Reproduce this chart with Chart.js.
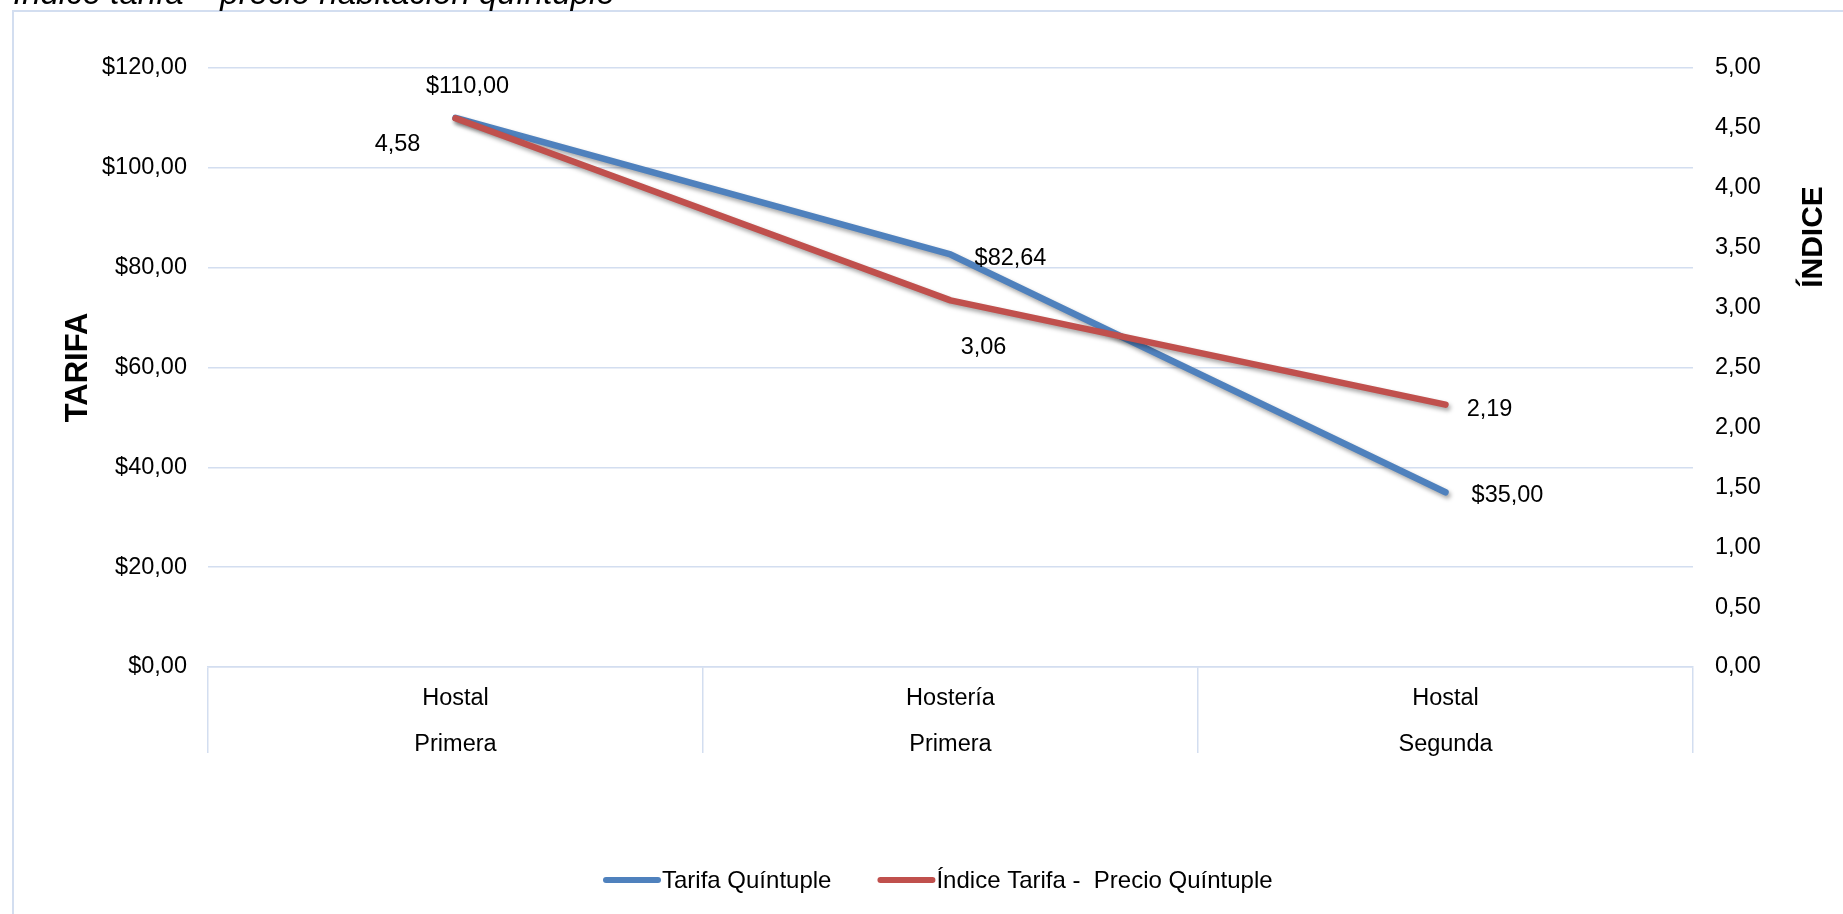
<!DOCTYPE html>
<html lang="es">
<head>
<meta charset="utf-8">
<title>Índice tarifa – precio habitación quíntuple</title>
<script src="https://cdn.jsdelivr.net/npm/chart.js@4.4.1/dist/chart.umd.min.js"></script>
<style>
  html, body { margin: 0; padding: 0; background: #ffffff; overflow: hidden; }
  #wrap { position: relative; width: 1843px; height: 914px; }
  canvas { display: block; }
</style>
</head>
<body>
<div id="wrap"><canvas id="chart"></canvas></div>
<script>
// ---- Data ----
const chartTitle = 'Índice tarifa – precio habitación quíntuple';
const categories = ['Hostal', 'Hostería', 'Hostal'];
const categoryGroups = ['Primera', 'Primera', 'Segunda'];
const seriesNames = ['Tarifa Quíntuple', 'Índice Tarifa -  Precio Quíntuple'];
const tarifa = [110.00, 82.64, 35.00];
const indice = [4.58, 3.06, 2.19];
const tarifaTicks = [0, 20, 40, 60, 80, 100, 120];
const indiceTicks = [0, 0.5, 1, 1.5, 2, 2.5, 3, 3.5, 4, 4.5, 5];
const axisTitles = ['TARIFA', 'ÍNDICE'];

// ---- Style ----
const FONT = '"Liberation Sans", Arial, Helvetica, sans-serif';
const BLUE = '#4f81bd';
const RED = '#c0504d';
const GRID = '#d3def0';
Chart.defaults.font.family = FONT;
Chart.defaults.color = '#000000';

// label offsets (dx, dy) from each point, per series
const labelOffsets = [
  [[12, -31], [60, 4.5], [62, 3.5]],
  [[-58, 26], [33, 47], [44, 5]]
];

const comma = (v) => v.toFixed(2).replace('.', ',');
const money = (v) => '$' + comma(v);
const formatters = [money, comma];

// Frame, title, axis titles, value labels and legend drawn on the canvas
const decorations = {
  id: 'decorations',
  beforeDraw(chart) {
    const ctx = chart.ctx;
    ctx.save();
    ctx.strokeStyle = GRID;
    ctx.lineWidth = 2;
    ctx.strokeRect(13, 11, 1900, 1000);
    ctx.restore();
  },
  beforeDatasetsDraw(chart) {
    const ctx = chart.ctx;
    ctx.save();
    ctx.shadowColor = 'rgba(0,0,0,0.35)';
    ctx.shadowBlur = 4;
    ctx.shadowOffsetX = 2;
    ctx.shadowOffsetY = 3;
  },
  afterDatasetsDraw(chart) {
    const ctx = chart.ctx;
    ctx.restore();

    // value labels
    ctx.save();
    ctx.font = '23.5px ' + FONT;
    ctx.fillStyle = '#000000';
    ctx.textAlign = 'center';
    ctx.textBaseline = 'middle';
    chart.data.datasets.forEach((ds, i) => {
      const meta = chart.getDatasetMeta(i);
      meta.data.forEach((pt, j) => {
        const [dx, dy] = labelOffsets[i][j];
        ctx.fillText(formatters[i](ds.data[j]), pt.x + dx, pt.y + dy);
      });
    });
    ctx.restore();
  },
  afterDraw(chart) {
    const ctx = chart.ctx;
    const area = chart.chartArea;

    // title (partly above the top edge)
    ctx.save();
    ctx.font = 'italic 33px ' + FONT;
    ctx.fillStyle = '#000000';
    ctx.textAlign = 'left';
    ctx.textBaseline = 'alphabetic';
    ctx.fillText(chartTitle, 13, 4);
    ctx.restore();

    // axis titles
    ctx.save();
    ctx.font = 'bold 31px ' + FONT;
    ctx.fillStyle = '#000000';
    ctx.textAlign = 'center';
    ctx.textBaseline = 'middle';
    ctx.translate(78, (area.top + area.bottom) / 2);
    ctx.rotate(-Math.PI / 2);
    ctx.fillText(axisTitles[0], 0, 0);
    ctx.restore();

    ctx.save();
    ctx.font = 'bold 30px ' + FONT;
    ctx.fillStyle = '#000000';
    ctx.textAlign = 'center';
    ctx.textBaseline = 'middle';
    ctx.translate(1814, 237);
    ctx.rotate(-Math.PI / 2);
    ctx.fillText(axisTitles[1], 0, 0);
    ctx.restore();

    // legend
    ctx.save();
    ctx.font = '24px ' + FONT;
    ctx.textAlign = 'left';
    ctx.textBaseline = 'middle';
    ctx.lineCap = 'round';
    ctx.lineWidth = 6;
    const ly = 880;
    let lx = 606;
    chart.data.datasets.forEach((ds, i) => {
      ctx.strokeStyle = ds.borderColor;
      ctx.beginPath();
      ctx.moveTo(lx, ly);
      ctx.lineTo(lx + 52, ly);
      ctx.stroke();
      ctx.fillStyle = '#000000';
      ctx.fillText(ds.label, lx + 56, ly + 1);
      lx += 56 + ctx.measureText(ds.label).width + 46 + 3;
    });
    ctx.restore();
  }
};

new Chart(document.getElementById('chart'), {
  type: 'line',
  data: {
    labels: categories.map((c, i) => [c, categoryGroups[i]]),
    datasets: [
      {
        label: seriesNames[0],
        data: tarifa,
        yAxisID: 'y',
        borderColor: BLUE,
        backgroundColor: BLUE,
        borderWidth: 6.5,
        borderCapStyle: 'round',
        borderJoinStyle: 'round',
        pointRadius: 0,
        pointHoverRadius: 0,
        tension: 0,
        order: 2
      },
      {
        label: seriesNames[1],
        data: indice,
        yAxisID: 'y1',
        borderColor: RED,
        backgroundColor: RED,
        borderWidth: 6.5,
        borderCapStyle: 'round',
        borderJoinStyle: 'round',
        pointRadius: 0,
        pointHoverRadius: 0,
        tension: 0,
        order: 1
      }
    ]
  },
  options: {
    responsive: true,
    maintainAspectRatio: false,
    devicePixelRatio: 1,
    animation: false,
    events: [],
    layout: { padding: { top: 68, left: 0, right: 0, bottom: 0 } },
    plugins: {
      legend: { display: false },
      title: { display: false },
      tooltip: { enabled: false }
    },
    scales: {
      x: {
        type: 'category',
        offset: true,
        grid: {
          offset: true,
          drawOnChartArea: false,
          drawTicks: true,
          tickLength: 86,
          color: GRID,
          lineWidth: 1.5
        },
        border: { display: true, color: GRID, width: 1.5 },
        ticks: {
          autoSkip: false,
          maxRotation: 0,
          minRotation: 0,
          padding: -78,
          color: '#000000',
          font: { size: 23.5, lineHeight: 1.96 }
        },
        afterFit(scale) { scale.height = 247; }
      },
      y: {
        position: 'left',
        min: tarifaTicks[0],
        max: tarifaTicks[tarifaTicks.length - 1],
        afterBuildTicks(scale) { scale.ticks = tarifaTicks.map(v => ({ value: v })); },
        grid: { drawTicks: false, color: GRID, lineWidth: 1.5 },
        border: { display: false },
        ticks: {
          padding: 21,
          color: '#000000',
          font: { size: 23.5 },
          callback: (v) => money(Number(v))
        },
        afterFit(scale) { scale.width = 208; }
      },
      y1: {
        position: 'right',
        min: indiceTicks[0],
        max: indiceTicks[indiceTicks.length - 1],
        afterBuildTicks(scale) { scale.ticks = indiceTicks.map(v => ({ value: v })); },
        grid: { drawOnChartArea: false, drawTicks: false },
        border: { display: false },
        ticks: {
          padding: 22,
          color: '#000000',
          font: { size: 23.5 },
          callback: (v) => comma(Number(v))
        },
        afterFit(scale) { scale.width = 150; }
      }
    }
  },
  plugins: [decorations]
});
</script>
</body>
</html>
